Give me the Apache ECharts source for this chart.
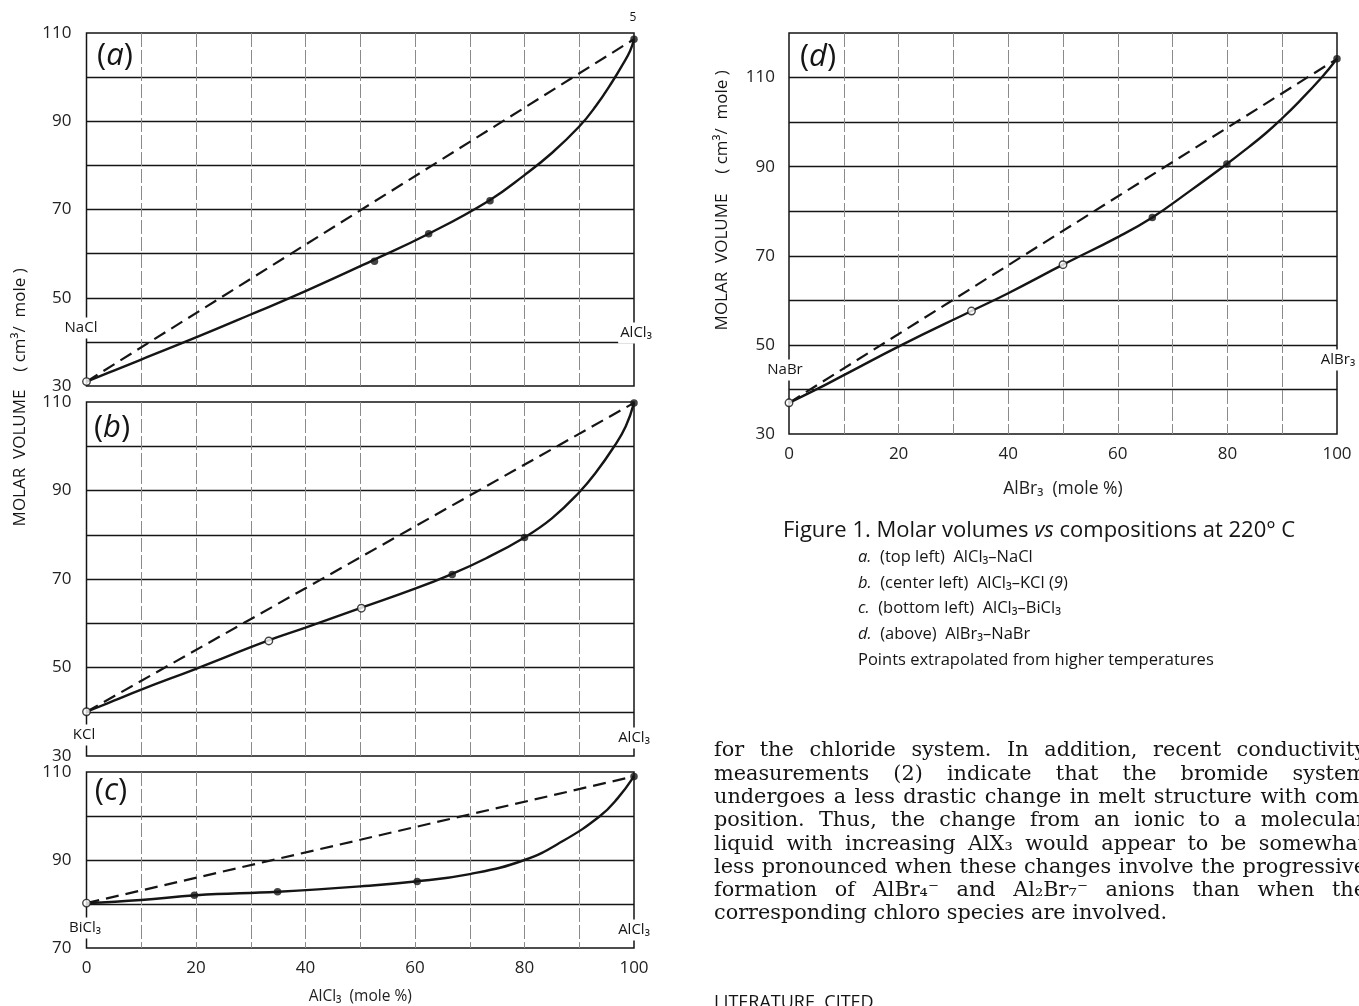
<!DOCTYPE html>
<html>
<head>
<meta charset="utf-8">
<title>Molar volumes vs compositions at 220° C</title>
<script src="https://cdn.jsdelivr.net/npm/echarts@6/dist/echarts.min.js"></script>
<style>
html, body { margin: 0; padding: 0; background: #fff; }
#chart { width: 1359px; height: 1006px; }
</style>
</head>
<body>
<div id="chart"></div>
<script>
// values: x = mole % AlX3, y = molar volume (cm3/mole)
let aCurveX = [0, 5, 10, 20, 30, 40, 52, 62.5, 73.5, 80, 85, 90, 93, 96, 98, 99.3, 100];
let aCurveY = [31, 33.5, 36, 41, 46.2, 51.5, 58.3, 64.5, 72, 77.8, 82.8, 88.8, 93.4, 98.9, 103, 106, 108.6];
let aDashY = [31, 108.6];
let aOpen = [[0, 31]];
let aFilled = [[52.6, 58.3], [62.5, 64.5], [73.7, 72], [100, 108.6]];

let bCurveX = [0, 5, 10, 20, 33, 40, 50, 60, 66.5, 73, 80, 85, 90, 93, 96.4, 98.5, 100];
let bCurveY = [40, 42.5, 45, 49.7, 56, 59, 63.4, 67.8, 71, 74.7, 79.4, 83.7, 89.6, 94, 100, 104.5, 109.8];
let bDashY = [40, 109.8];
let bOpen = [[0, 40], [33.3, 56], [50.2, 63.4]];
let bFilled = [[66.8, 71], [80, 79.4], [100, 109.8]];

let cCurveX = [0, 10, 20, 35, 50, 60, 70, 80, 87, 93.8, 97, 100];
let cCurveY = [80.2, 80.9, 82, 82.8, 84, 85.1, 86.8, 90, 94.3, 100, 104, 109];
let cDashY = [80.2, 109];
let cOpen = [[0, 80.2]];
let cFilled = [[19.7, 82], [34.9, 82.8], [60.4, 85.1], [100, 109]];

let dCurveX = [0, 5, 10, 20.6, 33.3, 40, 50, 60, 66.3, 73, 79.9, 84, 87, 89.6, 93, 97.2, 100];
let dCurveY = [37, 40, 43.2, 50, 57.6, 61.6, 68, 74.2, 78.6, 84.4, 90.6, 94.5, 97.5, 100.4, 104.5, 110, 114.2];
let dDashY = [37, 114.2];
let dOpen = [[0, 37], [33.3, 57.6], [50, 68]];
let dFilled = [[66.3, 78.6], [79.9, 90.6], [100, 114.2]];

let dashX = [0, 100];
let xTickLabels = [0, 20, 40, 60, 80, 100];

let captionTitle = "Figure 1. Molar volumes {i|vs} compositions at 220° C";
let captionLines = [
	"{i|a.}  (top left)  AlCl₃–NaCl",
	"{i|b.}  (center left)  AlCl₃–KCl ({i|9})",
	"{i|c.}  (bottom left)  AlCl₃–BiCl₃",
	"{i|d.}  (above)  AlBr₃–NaBr",
	"Points extrapolated from higher temperatures"
];
let bodyLines = [
	"for the chloride system. In addition, recent conductivity",
	"measurements (2) indicate that the bromide system",
	"undergoes a less drastic change in melt structure with com-",
	"position. Thus, the change from an ionic to a molecular",
	"liquid with increasing AlX₃ would appear to be somewhat",
	"less pronounced when these changes involve the progressive",
	"formation of AlBr₄⁻ and Al₂Br₇⁻ anions than when the",
	"corresponding chloro species are involved."
];

const FIG = '"Open Sans", "DejaVu Sans", sans-serif';
const SERIF = '"DejaVu Serif", serif';
const INK = "#151515";

let chart = echarts.init(document.getElementById("chart"), null, {width: 1359, height: 1006});

function zip(xs, ys) {
	return xs.map((x, i) => [x, ys[i]]);
}

function panelSeries(i, curveX, curveY, dashY, open, filled) {
	return [
		{type: "line", xAxisIndex: i, yAxisIndex: i, data: zip(curveX, curveY), smooth: 0.45,
			showSymbol: false, lineStyle: {color: INK, width: 2.4}, z: 3, silent: true},
		{type: "line", xAxisIndex: i, yAxisIndex: i, data: zip(dashX, dashY), showSymbol: false,
			lineStyle: {color: INK, width: 2.2, type: [13, 7]}, z: 3, silent: true},
		{type: "scatter", xAxisIndex: i, yAxisIndex: i, data: filled, symbolSize: 7.5, clip: false,
			itemStyle: {color: INK}, z: 5},
		{type: "scatter", xAxisIndex: i, yAxisIndex: i, data: open, symbolSize: 7.5, clip: false,
			itemStyle: {color: "#fff", borderColor: INK, borderWidth: 1.4}, z: 5}
	];
}

function xAxis(i, withLabels, name, nameSize) {
	return {
		type: "value", gridIndex: i, min: 0, max: 100, interval: 10,
		axisLine: {show: false}, axisTick: {show: false},
		axisLabel: {show: withLabels, margin: 12, fontFamily: FIG, fontSize: 17, color: "#222",
			formatter: v => xTickLabels.includes(v) ? String(v) : ""},
		splitLine: {show: true, showMinLine: false, showMaxLine: false, lineStyle: {color: "#8a8a8a", width: 1, type: [14, 3]}},
		name: name || "", nameLocation: "middle", nameGap: 41,
		nameTextStyle: {fontFamily: FIG, fontSize: nameSize || 15, color: "#222"}
	};
}

function yAxis(i, min, max, labelled, margin) {
	return {
		type: "value", gridIndex: i, min: min, max: max, interval: 10,
		axisLine: {show: false}, axisTick: {show: false},
		axisLabel: {margin: margin, fontFamily: FIG, fontSize: 17, color: "#222",
			formatter: v => labelled.includes(v) ? String(v) : ""},
		splitLine: {show: true, showMinLine: false, showMaxLine: false, lineStyle: {color: INK, width: 1.3}}
	};
}

function txt(x, y, text, style, extra) {
	return Object.assign({type: "text", x: x, y: y, z: 100,
		style: Object.assign({text: text, fill: INK, font: "15px " + FIG, textAlign: "center", textVerticalAlign: "middle"}, style)}, extra || {});
}

function panelLabel(x, y, letter) {
	return txt(x, y, "{p|(}{l|" + letter + "}{p|)}", {
		backgroundColor: "#fff", padding: [0, 3],
		rich: {
			p: {fontFamily: FIG, fontSize: 31, fill: INK},
			l: {fontFamily: FIG, fontSize: 31, fontStyle: "italic", fill: INK}
		}
	});
}

function endLabel(x, y, text) {
	return txt(x, y, text, {font: "15px " + FIG, backgroundColor: "#fff", padding: [3, 2]});
}

// justified body paragraph, one text element per word
let measure = document.createElement("canvas").getContext("2d");
const BODY_FONT = "20.8px " + SERIF;
measure.font = BODY_FONT;
function bodyText(left, right, top, step) {
	let out = [];
	let space = measure.measureText(" ").width;
	bodyLines.forEach((line, n) => {
		let words = line.split(" ");
		let widths = words.map(w => measure.measureText(w).width);
		let total = widths.reduce((a, b) => a + b, 0);
		let gap = (n === bodyLines.length - 1) ? space : (right - left - total) / (words.length - 1);
		let x = left;
		words.forEach((w, k) => {
			out.push({type: "text", x: x, y: top + n * step, z: 100,
				style: {text: w, font: BODY_FONT, fill: INK, textAlign: "left", textVerticalAlign: "middle"}});
			x += widths[k] + gap;
		});
	});
	return out;
}

let graphics = [
	panelLabel(115, 56, "a"),
	panelLabel(112, 428, "b"),
	panelLabel(111, 791, "c"),
	panelLabel(818, 57, "d"),
	endLabel(81, 328, "NaCl"),
	endLabel(636, 333, "AlCl₃"),
	endLabel(84, 735, "KCl"),
	endLabel(634, 738, "AlCl₃"),
	endLabel(85, 928, "BiCl₃"),
	endLabel(634, 930, "AlCl₃"),
	endLabel(785, 370, "NaBr"),
	endLabel(1338, 360, "AlBr₃"),
	txt(633, 18, "5", {font: "12px " + FIG}),
	txt(20, 458, "MOLAR  VOLUME", {font: "17px " + FIG}, {rotation: Math.PI / 2}),
	txt(20, 320, "( cm³/  mole )", {font: "17px " + FIG}, {rotation: Math.PI / 2}),
	txt(722, 262, "MOLAR  VOLUME", {font: "17px " + FIG}, {rotation: Math.PI / 2}),
	txt(722, 122, "( cm³/  mole )", {font: "17px " + FIG}, {rotation: Math.PI / 2}),
	txt(783, 531, captionTitle, {textAlign: "left", font: "22px " + FIG,
		rich: {i: {fontFamily: FIG, fontSize: 22, fontStyle: "italic", fill: INK}}}),
	txt(714, 994, "LITERATURE  CITED", {textAlign: "left", textVerticalAlign: "top", font: "18px " + FIG})
];
captionLines.forEach((line, n) => {
	graphics.push(txt(858, 557 + n * 25.8, line, {textAlign: "left", font: "16.5px " + FIG,
		rich: {i: {fontFamily: FIG, fontSize: 16.5, fontStyle: "italic", fill: INK}}}));
});
graphics = graphics.concat(bodyText(714, 1366, 751, 23.3));

let gridStyle = {show: true, borderColor: INK, borderWidth: 1.5, backgroundColor: "transparent"};

chart.setOption({
	animation: false,
	backgroundColor: "#fff",
	grid: [
		Object.assign({left: 86.5, width: 547.5, top: 33, height: 353}, gridStyle),
		Object.assign({left: 86.5, width: 547.5, top: 402, height: 354}, gridStyle),
		Object.assign({left: 86.5, width: 547.5, top: 772, height: 177}, gridStyle),
		Object.assign({left: 789, width: 548, top: 33, height: 401}, gridStyle)
	],
	xAxis: [
		xAxis(0, false),
		xAxis(1, false),
		xAxis(2, true, "AlCl₃  (mole %)", 15.5),
		Object.assign(xAxis(3, true, "AlBr₃  (mole %)", 17.5), {nameGap: 46})
	],
	yAxis: [
		yAxis(0, 30, 110, [30, 50, 70, 90, 110], 15),
		yAxis(1, 30, 110, [30, 50, 70, 90, 110], 15),
		yAxis(2, 70, 110, [70, 90, 110], 15),
		yAxis(3, 30, 120, [30, 50, 70, 90, 110], 14)
	],
	series: [].concat(
		panelSeries(0, aCurveX, aCurveY, aDashY, aOpen, aFilled),
		panelSeries(1, bCurveX, bCurveY, bDashY, bOpen, bFilled),
		panelSeries(2, cCurveX, cCurveY, cDashY, cOpen, cFilled),
		panelSeries(3, dCurveX, dCurveY, dDashY, dOpen, dFilled)
	),
	graphic: graphics
});
</script>
</body>
</html>
